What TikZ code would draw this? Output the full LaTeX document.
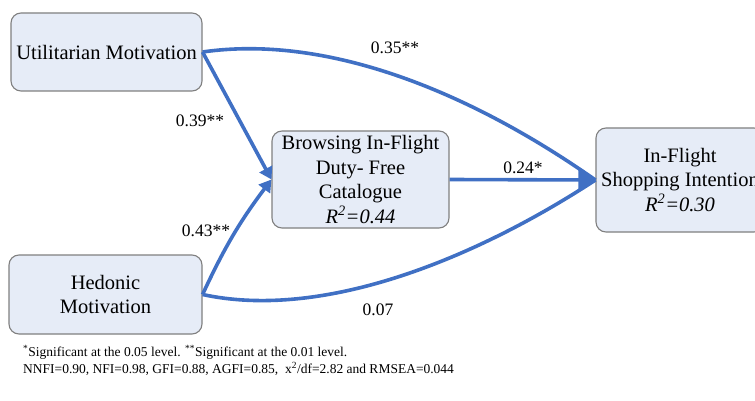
\documentclass[tikz,border=0pt]{standalone}
\usepackage{fontspec}
\setmainfont{Liberation Serif}
\newfontfamily\timesface{Liberation Serif}
\usetikzlibrary{arrows.meta}
\definecolor{boxfill}{RGB}{230,236,247}
\definecolor{boxline}{RGB}{128,128,128}
\definecolor{pathblue}{RGB}{64,112,196}
\tikzset{
  construct/.style={draw=boxline, line width=1.1pt, fill=boxfill, rounded corners=10pt,
    align=center, inner sep=2pt, font=\timesface\fontsize{20.5}{24.5}\selectfont},
  pathline/.style={draw=pathblue, line width=3.6pt},
  smalltip/.style={-{Triangle[length=12pt,width=14pt]}},
  bigtip/.style={-{Triangle[length=17pt,width=24pt]}},
  coef/.style={font=\timesface\fontsize{17.5}{20}\selectfont, inner sep=0pt},
  note/.style={font=\timesface\fontsize{13.5}{17}\selectfont, anchor=west, inner sep=0pt}
}
\begin{document}
\begin{tikzpicture}[x=1pt,y=-1pt]
\useasboundingbox[fill=white] (0,0) rectangle (755,401);

% constructs
\node[construct, minimum width=191pt, minimum height=78pt] (um) at (106.5,52) {Utilitarian Motivation};
\node[construct, minimum width=193pt, minimum height=79pt] (hm) at (105.5,294.5) {Hedonic\\Motivation};
\node[construct, minimum width=177pt, minimum height=97pt] (br) at (360.5,179.5)
  {Browsing In-Flight\\Duty- Free\\Catalogue\\\textit{R}\textsuperscript{\itshape 2}\textit{=0.44}};
\node[construct, minimum width=168pt, minimum height=104pt] (si) at (680,180)
  {In-Flight\\Shopping Intention\\\textit{R}\textsuperscript{\itshape 2}\textit{=0.30}};

% structural paths
\draw[pathline, smalltip] (um.east) -- (br.west);
\draw[pathline, smalltip] (hm.east) to[bend left=6] (br.west);
\draw[pathline] (um.east) .. controls (320,35) and (460,85) .. (si.west);
\draw[pathline] (hm.east) .. controls (320,320) and (470,262) .. (si.west);
\draw[pathline, bigtip] (br.east) -- (si.west);

% path coefficients
\node[coef] (c1) at (395,48) {0.35**};
\node[coef] (c2) at (200,121) {0.39**};
\node[coef] (c3) at (206,231) {0.43**};
\node[coef] (c4) at (523,168) {0.24*};
\node[coef] (c5) at (378,310) {0.07};

% notes
\node[note] (n1) at (23,352) {\textsuperscript{*}Significant at the 0.05 level. \textsuperscript{**}Significant at the 0.01 level.};
\node[note] (n2) at (23,369) {NNFI=0.90, NFI=0.98, GFI=0.88, AGFI=0.85, \ x\textsuperscript{2}/df=2.82 and RMSEA=0.044};
\end{tikzpicture}
\end{document}
